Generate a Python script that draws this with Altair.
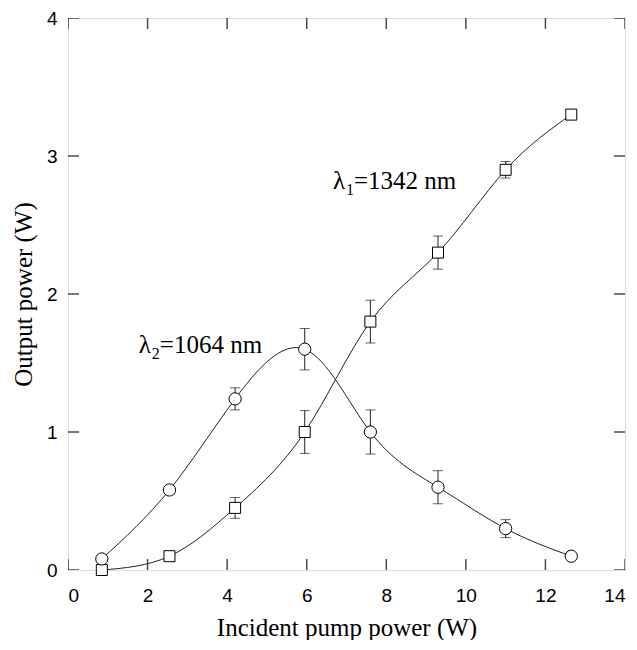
import altair as alt
import pandas as pd

# data
pump = [0.85, 2.55, 4.2, 5.95, 7.6, 9.3, 11.0, 12.65]
p1342 = [0.0, 0.1, 0.45, 1.0, 1.8, 2.3, 2.9, 3.3]
e1342 = [0.0, 0.0, 0.075, 0.155, 0.155, 0.12, 0.06, 0.02]
p1064 = [0.08, 0.58, 1.24, 1.6, 1.0, 0.6, 0.3, 0.1]
e1064 = [0.0, 0.0, 0.08, 0.15, 0.16, 0.12, 0.065, 0.0]

x_ticks = [0, 2, 4, 6, 8, 10, 12, 14]
y_ticks = [0, 1, 2, 3, 4]

df1 = pd.DataFrame({"x": pump, "y": p1342, "lo": [a - b for a, b in zip(p1342, e1342)],
                    "hi": [a + b for a, b in zip(p1342, e1342)], "e": e1342})
df2 = pd.DataFrame({"x": pump, "y": p1064, "lo": [a - b for a, b in zip(p1064, e1064)],
                    "hi": [a + b for a, b in zip(p1064, e1064)], "e": e1064})

xs = alt.Scale(domain=[0, 14], nice=False, zero=False)
ys = alt.Scale(domain=[0, 4], nice=False, zero=False)

xax = alt.Axis(values=x_ticks, format="d", labelPadding=16, title="Incident pump power (W)", titlePadding=10)
yax = alt.Axis(values=y_ticks, format="d", labelPadding=11, title="Output power (W)", titlePadding=10)

NX = alt.X("x:Q", scale=xs, axis=xax)
NY = alt.Y("y:Q", scale=ys, axis=yax)


def series(df, shape, size):
    line = alt.Chart(df).mark_line(color="#222", strokeWidth=1, interpolate="natural").encode(x=NX, y=NY)
    err_df = df[df["e"] > 0.03]
    err = alt.Chart(err_df).mark_errorbar(ticks={"size": 10, "thickness": 1, "color": "#222"},
                                           color="#222", thickness=1).encode(
        x=NX, y=alt.Y("lo:Q", scale=ys, axis=yax), y2="hi:Q")
    pts = alt.Chart(df).mark_point(shape=shape, size=size, filled=True, fill="white", stroke="black",
                                   strokeWidth=1, opacity=1).encode(x=NX, y=NY)
    return [line, err, pts]


tx = pd.DataFrame({"v": x_ticks})
ty = pd.DataFrame({"v": y_ticks})
VX = alt.X("v:Q", scale=xs, axis=xax)
VY = alt.Y("v:Q", scale=ys, axis=yax)
tick_bottom = alt.Chart(tx).mark_tick(orient="vertical", size=22, thickness=1.5, color="black", clip=True).encode(
    x=VX, y=alt.datum(0, scale=ys, axis=yax))
tick_top = alt.Chart(tx).mark_tick(orient="vertical", size=22, thickness=1.5, color="black", clip=True).encode(
    x=VX, y=alt.datum(4, scale=ys, axis=yax))
tick_left = alt.Chart(ty).mark_tick(orient="horizontal", size=22, thickness=1.5, color="black", clip=True).encode(
    y=VY, x=alt.datum(0, scale=xs, axis=xax))
tick_right = alt.Chart(ty).mark_tick(orient="horizontal", size=22, thickness=1.5, color="black", clip=True).encode(
    y=VY, x=alt.datum(14, scale=xs, axis=xax))

# annotations
lab1 = pd.DataFrame({"x": [6.66], "y": [2.76]})
lab2 = pd.DataFrame({"x": [1.78], "y": [1.57]})


def label(df, sub, rest):
    common = dict(align="left", baseline="alphabetic", font="Liberation Serif", color="black")
    a = alt.Chart(df).mark_text(fontSize=25, text="λ", **common).encode(x=NX, y=NY)
    b = alt.Chart(df).mark_text(fontSize=16, text=sub, dx=13, dy=6, **common).encode(x=NX, y=NY)
    c = alt.Chart(df).mark_text(fontSize=25, text=rest, dx=21, **common).encode(x=NX, y=NY)
    return [a, b, c]


layers = series(df1, "square", 121) + series(df2, "circle", 150) + \
    [tick_bottom, tick_top, tick_left, tick_right] + label(lab1, "1", "=1342 nm") + label(lab2, "2", "=1064 nm")

chart = alt.layer(*layers).properties(
    width=557, height=552,
    autosize=alt.AutoSizeParams(type="none"),
    padding={"left": 60, "top": 10, "right": 4, "bottom": 70},
).configure_view(stroke="black", strokeWidth=1.5).configure(background="white").configure_axis(
    ticks=False, domain=False, grid=False, labelFont="Liberation Sans", labelFontSize=19,
    labelColor="black", titleFont="Liberation Serif", titleFontSize=25, titleFontWeight="normal",
    titleColor="black")

chart.save("out.html", embed_options={"renderer": "svg", "actions": False})
